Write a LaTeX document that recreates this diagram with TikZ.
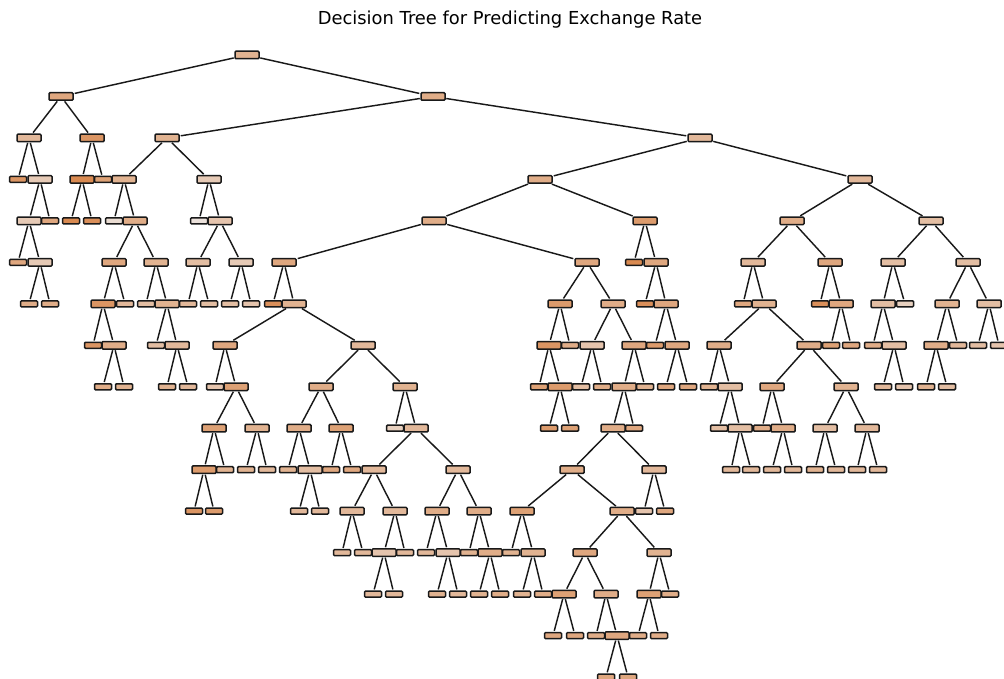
\documentclass[tikz,border=0pt]{standalone}
\usepackage{fontspec}
\newfontfamily\titlefont{DejaVu Sans}
\definecolor{tc}{RGB}{229,129,57}
\newcommand\tn[5]{\node[#1,fill=tc!#5!white!93!black] (#2) at (#3,{55+41.47*#4}) {};}
\begin{document}
\begin{tikzpicture}[x=1pt,y=-1pt,
  inode/.style={draw=black!90, line width=1.5pt, rounded corners=1pt, minimum width=24pt, minimum height=7.5pt, inner sep=0pt},
  lnode/.style={draw=black!90, line width=1.5pt, rounded corners=1pt, minimum width=17pt, minimum height=6pt, inner sep=0pt},
  edge/.style={draw=black!90, line width=1.45pt, shorten >=1pt, shorten <=0.5pt},
  title/.style={font=\titlefont\fontsize{17.9}{20}\selectfont, inner sep=0pt}]
\useasboundingbox (0,0) rectangle (1004,679);
\fill[white] (0,0) rectangle (1004,679);
\node[title] (title) at (510,20) {Decision Tree for Predicting Exchange Rate};
% level 0-1
\tn{inode}{R}{247}{0}{50}
\tn{inode}{A}{61}{1}{60}
\tn{inode}{B}{433}{1}{55}
% level 2
\tn{inode}{A1}{29}{2}{45}
\tn{inode}{A2}{92}{2}{75}
\tn{inode}{B1}{167}{2}{50}
\tn{inode}{B2}{700}{2}{45}
% level 3
\tn{lnode}{A1a}{18}{3}{75}
\tn{inode}{A1R}{40}{3}{30}
\tn{inode}{A2L}{82}{3}{85}
\tn{lnode}{A2b}{103}{3}{65}
\tn{inode}{B1L}{124}{3}{50}
\tn{inode}{B1R}{209}{3}{30}
\tn{inode}{C}{540}{3}{55}
\tn{inode}{D}{860}{3}{45}
% level 4
\tn{inode}{A1RL}{29}{4}{30}
\tn{lnode}{A1Rb}{50}{4}{60}
\tn{lnode}{A2La}{71}{4}{85}
\tn{lnode}{A2Lb}{92}{4}{80}
\tn{lnode}{B1La}{114}{4}{15}
\tn{inode}{B1LR}{135}{4}{55}
\tn{lnode}{B1Ra}{199}{4}{10}
\tn{inode}{B1RR}{220}{4}{35}
\tn{inode}{C1}{434}{4}{55}
\tn{inode}{C2}{645}{4}{70}
\tn{inode}{D1}{792}{4}{55}
\tn{inode}{D2}{931}{4}{40}
% level 5
\tn{lnode}{A1RLa}{18}{5}{60}
\tn{inode}{A1RLR}{40}{5}{30}
\tn{inode}{B1LRL}{114}{5}{60}
\tn{inode}{B1LRR}{156}{5}{50}
\tn{inode}{B1RRL}{198}{5}{40}
\tn{inode}{B1RRR}{241}{5}{30}
\tn{inode}{E}{284}{5}{60}
\tn{inode}{F}{587}{5}{60}
\tn{lnode}{C2a}{634}{5}{85}
\tn{inode}{C2R}{656}{5}{60}
\tn{inode}{D1L}{753}{5}{45}
\tn{inode}{D1R}{830}{5}{60}
\tn{inode}{D2L}{893}{5}{40}
\tn{inode}{D2R}{968}{5}{40}
% level 6
\tn{lnode}{A1RLRa}{29}{6}{55}
\tn{lnode}{A1RLRb}{50}{6}{55}
\tn{inode}{X}{103}{6}{75}
\tn{lnode}{Xb}{125}{6}{45}
\tn{lnode}{B1LRRa}{146}{6}{40}
\tn{inode}{Y}{167}{6}{50}
\tn{lnode}{B1RRLa}{188}{6}{45}
\tn{lnode}{B1RRLb}{209}{6}{40}
\tn{lnode}{B1RRRa}{230}{6}{40}
\tn{lnode}{B1RRRb}{251}{6}{35}
\tn{lnode}{Ea}{273}{6}{80}
\tn{inode}{E1}{294}{6}{50}
\tn{inode}{F1}{560}{6}{70}
\tn{inode}{F2}{613}{6}{55}
\tn{lnode}{C2Ra}{645}{6}{80}
\tn{inode}{C2RR}{666}{6}{60}
\tn{lnode}{D1La}{743}{6}{60}
\tn{inode}{D1LR}{764}{6}{50}
\tn{lnode}{D1Ra}{820}{6}{80}
\tn{inode}{D1RR}{841}{6}{60}
\tn{inode}{D2LL}{883}{6}{40}
\tn{lnode}{D2Lb}{905}{6}{25}
\tn{inode}{D2RL}{947}{6}{50}
\tn{inode}{D2RR}{989}{6}{40}
% level 7
\tn{lnode}{Xa}{93}{7}{75}
\tn{inode}{XR}{114}{7}{55}
\tn{lnode}{Ya}{156}{7}{40}
\tn{inode}{YR}{177}{7}{45}
\tn{inode}{E1L}{225}{7}{60}
\tn{inode}{E1R}{363}{7}{45}
\tn{inode}{F1L}{549}{7}{75}
\tn{lnode}{F1b}{570}{7}{55}
\tn{inode}{F2L}{592}{7}{35}
\tn{inode}{F2R}{634}{7}{60}
\tn{lnode}{C2RRa}{655}{7}{70}
\tn{inode}{C2RRR}{677}{7}{60}
\tn{inode}{D1LRL}{719}{7}{55}
\tn{inode}{D1LRR}{809}{7}{55}
\tn{lnode}{D1RRa}{831}{7}{65}
\tn{lnode}{D1RRb}{851}{7}{60}
\tn{lnode}{D2LLa}{873}{7}{55}
\tn{inode}{D2LLR}{894}{7}{40}
\tn{inode}{D2RLL}{936}{7}{55}
\tn{lnode}{D2RLb}{958}{7}{45}
\tn{lnode}{D2RRa}{978}{7}{40}
\tn{lnode}{D2RRb}{999}{7}{35}
% level 8
\tn{lnode}{XRa}{103}{8}{55}
\tn{lnode}{XRb}{124}{8}{50}
\tn{lnode}{YRa}{167}{8}{50}
\tn{lnode}{YRb}{188}{8}{45}
\tn{lnode}{E1La}{215}{8}{35}
\tn{inode}{E1LR}{236}{8}{65}
\tn{inode}{I}{321}{8}{55}
\tn{inode}{J}{405}{8}{50}
\tn{lnode}{F1La}{539}{8}{65}
\tn{inode}{F1LR}{560}{8}{70}
\tn{lnode}{F2La}{581}{8}{40}
\tn{lnode}{F2Lb}{602}{8}{55}
\tn{inode}{F2RL}{624}{8}{55}
\tn{lnode}{F2Rb}{645}{8}{50}
\tn{lnode}{C2RRRa}{666}{8}{60}
\tn{lnode}{C2RRRb}{688}{8}{60}
\tn{lnode}{D1LRLa}{709}{8}{50}
\tn{inode}{D1LRLR}{730}{8}{40}
\tn{inode}{S}{772}{8}{60}
\tn{inode}{T}{846}{8}{50}
\tn{lnode}{D2LLRa}{883}{8}{45}
\tn{lnode}{D2LLRb}{904}{8}{35}
\tn{lnode}{D2RLLa}{926}{8}{50}
\tn{lnode}{D2RLLb}{947}{8}{40}
% level 9
\tn{inode}{G}{214}{9}{65}
\tn{inode}{H}{257}{9}{50}
\tn{inode}{I1}{299}{9}{55}
\tn{inode}{I2}{341}{9}{65}
\tn{lnode}{Ja}{395}{9}{25}
\tn{inode}{JR}{416}{9}{45}
\tn{lnode}{F1LRa}{549}{9}{70}
\tn{lnode}{F1LRb}{570}{9}{65}
\tn{inode}{N}{613}{9}{55}
\tn{lnode}{F2RLb}{634}{9}{60}
\tn{lnode}{D1LRLRa}{719}{9}{40}
\tn{inode}{U}{740}{9}{40}
\tn{lnode}{Sa}{762}{9}{55}
\tn{inode}{V}{783}{9}{55}
\tn{inode}{W}{825}{9}{40}
\tn{inode}{Z}{867}{9}{45}
% level 10
\tn{inode}{G1}{204}{10}{70}
\tn{lnode}{Gb}{225}{10}{50}
\tn{lnode}{Ha}{246}{10}{50}
\tn{lnode}{Hb}{267}{10}{45}
\tn{lnode}{I1a}{288}{10}{50}
\tn{inode}{I1R}{310}{10}{40}
\tn{lnode}{I2a}{331}{10}{60}
\tn{lnode}{I2b}{352}{10}{60}
\tn{inode}{K}{374}{10}{45}
\tn{inode}{L}{458}{10}{45}
\tn{inode}{O}{572}{10}{55}
\tn{inode}{P}{654}{10}{45}
\tn{lnode}{Ua}{731}{10}{45}
\tn{lnode}{Ub}{751}{10}{45}
\tn{lnode}{Va}{772}{10}{45}
\tn{lnode}{Vb}{793}{10}{45}
\tn{lnode}{Wa}{815}{10}{50}
\tn{lnode}{Wb}{836}{10}{45}
\tn{lnode}{Za}{857}{10}{45}
\tn{lnode}{Zb}{878}{10}{45}
% level 11
\tn{lnode}{G1a}{194}{11}{75}
\tn{lnode}{G1b}{214}{11}{70}
\tn{lnode}{I1Ra}{299}{11}{45}
\tn{lnode}{I1Rb}{320}{11}{45}
\tn{inode}{K1}{352}{11}{45}
\tn{inode}{K2}{395}{11}{45}
\tn{inode}{L1}{437}{11}{55}
\tn{inode}{L2}{479}{11}{55}
\tn{inode}{M}{522}{11}{65}
\tn{inode}{O2}{622}{11}{55}
\tn{lnode}{Pa}{644}{11}{35}
\tn{lnode}{Pb}{665}{11}{60}
% level 12
\tn{lnode}{K1a}{342}{12}{45}
\tn{lnode}{K1b}{363}{12}{45}
\tn{inode}{K2L}{384}{12}{35}
\tn{lnode}{K2b}{405}{12}{45}
\tn{lnode}{L1a}{426}{12}{45}
\tn{inode}{L1R}{448}{12}{35}
\tn{lnode}{L2a}{469}{12}{50}
\tn{inode}{L2R}{490}{12}{55}
\tn{lnode}{Ma}{511}{12}{50}
\tn{inode}{MR}{533}{12}{50}
\tn{inode}{O2L}{585}{12}{60}
\tn{inode}{O2R}{659}{12}{50}
% level 13
\tn{lnode}{K2La}{373}{13}{45}
\tn{lnode}{K2Lb}{394}{13}{45}
\tn{lnode}{L1Ra}{437}{13}{50}
\tn{lnode}{L1Rb}{458}{13}{45}
\tn{lnode}{L2Ra}{479}{13}{50}
\tn{lnode}{L2Rb}{500}{13}{55}
\tn{lnode}{MRa}{522}{13}{50}
\tn{lnode}{MRb}{543}{13}{55}
\tn{inode}{O2LL}{564}{13}{65}
\tn{inode}{O2LR}{606}{13}{55}
\tn{inode}{O2RL}{649}{13}{65}
\tn{lnode}{O2Rb}{670}{13}{55}
% level 14
\tn{lnode}{O2LLa}{553}{14}{60}
\tn{lnode}{O2LLb}{575}{14}{60}
\tn{lnode}{O2LRa}{596}{14}{55}
\tn{inode}{Q}{617}{14}{60}
\tn{lnode}{O2RLa}{638}{14}{55}
\tn{lnode}{O2RLb}{659}{14}{55}
% level 15
\tn{lnode}{Qa}{606}{15}{60}
\tn{lnode}{Qb}{628}{15}{60}
% edges
\foreach \p/\c in {R/A,R/B,A/A1,A/A2,B/B1,B/B2,
  A1/A1a,A1/A1R,A2/A2L,A2/A2b,B1/B1L,B1/B1R,B2/C,B2/D,
  A1R/A1RL,A1R/A1Rb,A2L/A2La,A2L/A2Lb,B1L/B1La,B1L/B1LR,B1R/B1Ra,B1R/B1RR,C/C1,C/C2,D/D1,D/D2,
  A1RL/A1RLa,A1RL/A1RLR,B1LR/B1LRL,B1LR/B1LRR,B1RR/B1RRL,B1RR/B1RRR,C1/E,C1/F,C2/C2a,C2/C2R,D1/D1L,D1/D1R,D2/D2L,D2/D2R,
  A1RLR/A1RLRa,A1RLR/A1RLRb,B1LRL/X,B1LRL/Xb,B1LRR/B1LRRa,B1LRR/Y,B1RRL/B1RRLa,B1RRL/B1RRLb,B1RRR/B1RRRa,B1RRR/B1RRRb,
  E/Ea,E/E1,F/F1,F/F2,C2R/C2Ra,C2R/C2RR,D1L/D1La,D1L/D1LR,D1R/D1Ra,D1R/D1RR,D2L/D2LL,D2L/D2Lb,D2R/D2RL,D2R/D2RR,
  X/Xa,X/XR,Y/Ya,Y/YR,E1/E1L,E1/E1R,F1/F1L,F1/F1b,F2/F2L,F2/F2R,C2RR/C2RRa,C2RR/C2RRR,D1LR/D1LRL,D1LR/D1LRR,
  D1RR/D1RRa,D1RR/D1RRb,D2LL/D2LLa,D2LL/D2LLR,D2RL/D2RLL,D2RL/D2RLb,D2RR/D2RRa,D2RR/D2RRb,
  XR/XRa,XR/XRb,YR/YRa,YR/YRb,E1L/E1La,E1L/E1LR,E1R/I,E1R/J,F1L/F1La,F1L/F1LR,F2L/F2La,F2L/F2Lb,F2R/F2RL,F2R/F2Rb,
  C2RRR/C2RRRa,C2RRR/C2RRRb,D1LRL/D1LRLa,D1LRL/D1LRLR,D1LRR/S,D1LRR/T,D2LLR/D2LLRa,D2LLR/D2LLRb,D2RLL/D2RLLa,D2RLL/D2RLLb,
  E1LR/G,E1LR/H,I/I1,I/I2,J/Ja,J/JR,F1LR/F1LRa,F1LR/F1LRb,F2RL/N,F2RL/F2RLb,D1LRLR/D1LRLRa,D1LRLR/U,S/Sa,S/V,T/W,T/Z,
  G/G1,G/Gb,H/Ha,H/Hb,I1/I1a,I1/I1R,I2/I2a,I2/I2b,JR/K,JR/L,N/O,N/P,U/Ua,U/Ub,V/Va,V/Vb,W/Wa,W/Wb,Z/Za,Z/Zb,
  G1/G1a,G1/G1b,I1R/I1Ra,I1R/I1Rb,K/K1,K/K2,L/L1,L/L2,O/M,O/O2,P/Pa,P/Pb,
  K1/K1a,K1/K1b,K2/K2L,K2/K2b,L1/L1a,L1/L1R,L2/L2a,L2/L2R,M/Ma,M/MR,O2/O2L,O2/O2R,
  K2L/K2La,K2L/K2Lb,L1R/L1Ra,L1R/L1Rb,L2R/L2Ra,L2R/L2Rb,MR/MRa,MR/MRb,O2L/O2LL,O2L/O2LR,O2R/O2RL,O2R/O2Rb,
  O2LL/O2LLa,O2LL/O2LLb,O2LR/O2LRa,O2LR/Q,O2RL/O2RLa,O2RL/O2RLb,
  Q/Qa,Q/Qb}
  \draw[edge] (\p) -- (\c);
\end{tikzpicture}
\end{document}
